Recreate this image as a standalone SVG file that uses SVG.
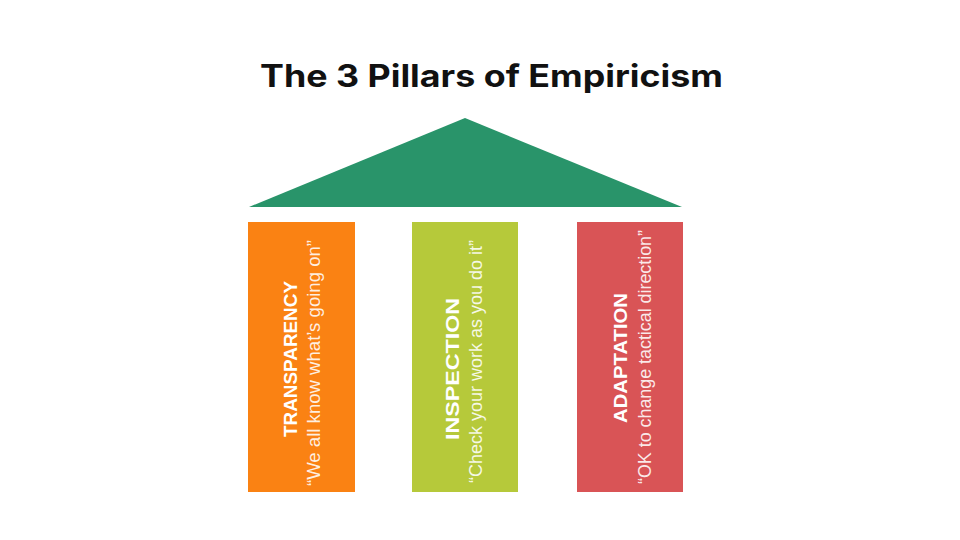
<svg xmlns="http://www.w3.org/2000/svg" width="960" height="540" viewBox="0 0 960 540">
  <style>
    .title { font-family: Inter, "Liberation Sans", sans-serif; font-weight: 700; font-size: 31px; fill: #111111; }
    .label { font-family: "Liberation Sans", Arial, sans-serif; font-weight: 700; font-size: 19px; fill: #ffffff; }
    .quote { font-family: "Liberation Sans", Arial, sans-serif; font-size: 18px; fill: #ffffff; fill-opacity: 0.88; }
  </style>
  <rect x="0" y="0" width="960" height="540" fill="#ffffff"/>
  <g id="title">
    <text class="title" x="260" y="87" textLength="463" lengthAdjust="spacingAndGlyphs">The 3 Pillars of Empiricism</text>
  </g>
  <g id="roof">
    <polygon points="465,118 682,207 249,207" fill="#29946A"/>
  </g>
  <g id="transparency">
    <rect x="248" y="222" width="107" height="270" fill="#FA8213"/>
    <text class="label" transform="translate(297,437) rotate(-90)" textLength="156" lengthAdjust="spacingAndGlyphs">TRANSPARENCY</text>
    <text class="quote" transform="translate(320,486) rotate(-90)" textLength="246" lengthAdjust="spacingAndGlyphs">“We all know what’s going on”</text>
  </g>
  <g id="inspection">
    <rect x="412" y="222" width="106" height="270" fill="#B6C93A"/>
    <text class="label" transform="translate(459,440) rotate(-90)" textLength="142" lengthAdjust="spacingAndGlyphs">INSPECTION</text>
    <text class="quote" transform="translate(482,483) rotate(-90)" textLength="243" lengthAdjust="spacingAndGlyphs">“Check your work as you do it”</text>
  </g>
  <g id="adaptation">
    <rect x="577" y="222" width="106" height="270" fill="#D95456"/>
    <text class="label" transform="translate(627,423) rotate(-90)" textLength="130" lengthAdjust="spacingAndGlyphs">ADAPTATION</text>
    <text class="quote" transform="translate(651,484) rotate(-90)" textLength="254" lengthAdjust="spacingAndGlyphs">“OK to change tactical direction”</text>
  </g>
  <g id="connectors"></g>
</svg>
